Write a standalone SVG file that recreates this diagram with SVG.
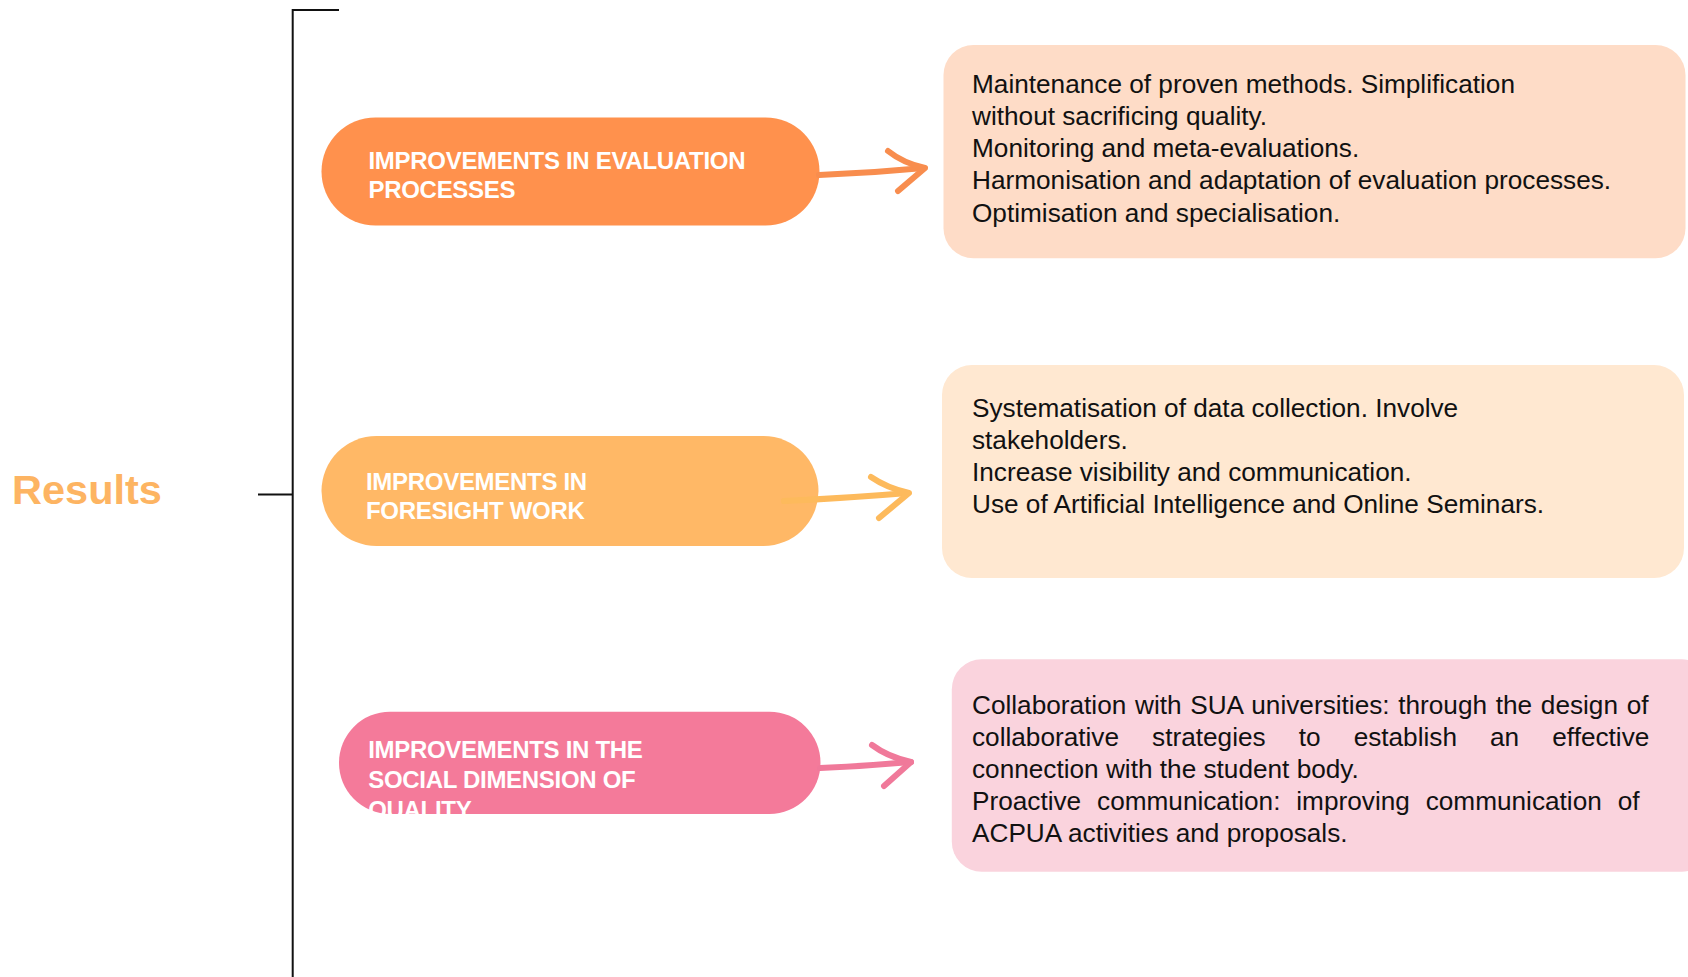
<svg xmlns="http://www.w3.org/2000/svg" width="1688" height="977" viewBox="0 0 1688 977">
<style>
.pilltxt{font-family:"Liberation Sans",Arial,sans-serif;font-weight:bold;font-size:24px;fill:#ffffff;letter-spacing:-0.3px}
.boxtxt{font-family:"Liberation Sans",Arial,sans-serif;font-size:26.2px;fill:#111111}
.bracket{stroke:#111111;stroke-width:2;fill:none}
.shaft{fill:none;stroke-width:6;stroke-linecap:round}
.head{fill:none;stroke-width:6;stroke-linecap:round;stroke-linejoin:round}
</style>
<defs>
<clipPath id="clip3"><rect x="339" y="711" width="482" height="103"/></clipPath>
</defs>
<rect x="0" y="0" width="1688" height="977" fill="#ffffff"/>

<g id="results">
<text x="12" y="503.5" font-family="Liberation Sans, Arial, sans-serif" font-weight="bold" font-size="41.5" fill="#FDB462">Results</text>
</g>

<g id="bracket">
<path class="bracket" d="M339,10 H292.7 V977"/>
<path class="bracket" d="M258,494.6 H292.7"/>
</g>

<g id="pill1">
<rect x="321.5" y="117.5" width="498" height="108" rx="54" fill="#FF914D"/>
<text class="pilltxt" x="368.5" y="169.3">IMPROVEMENTS IN EVALUATION</text>
<text class="pilltxt" x="368.5" y="197.5">PROCESSES</text>
</g>

<g id="pill2">
<rect x="321.5" y="436" width="497" height="110" rx="55" fill="#FFB866"/>
<text class="pilltxt" x="366" y="490">IMPROVEMENTS IN</text>
<text class="pilltxt" x="366" y="519.3">FORESIGHT WORK</text>
</g>

<g id="pill3">
<rect x="339" y="711.7" width="481.5" height="102.3" rx="51" fill="#F47A9A"/>
<g clip-path="url(#clip3)">
<text class="pilltxt" x="368.2" y="757.7">IMPROVEMENTS IN THE</text>
<text class="pilltxt" x="368.2" y="787.7">SOCIAL DIMENSION OF</text>
<text class="pilltxt" x="368.2" y="817.7">QUALITY</text>
</g>
</g>

<g id="box1">
<rect x="943.5" y="45" width="742" height="213.3" rx="30" fill="#FEDCC7"/>
<text class="boxtxt" x="972" y="93.3">Maintenance of proven methods. Simplification</text>
<text class="boxtxt" x="972" y="124.8">without sacrificing quality.</text>
<text class="boxtxt" x="972" y="157">Monitoring and meta-evaluations.</text>
<text class="boxtxt" x="972" y="189.3">Harmonisation and adaptation of evaluation processes.</text>
<text class="boxtxt" x="972" y="221.5">Optimisation and specialisation.</text>
</g>

<g id="box2">
<rect x="942" y="365" width="742" height="213" rx="30" fill="#FFE8D1"/>
<text class="boxtxt" x="972" y="417">Systematisation of data collection. Involve</text>
<text class="boxtxt" x="972" y="449">stakeholders.</text>
<text class="boxtxt" x="972" y="481">Increase visibility and communication.</text>
<text class="boxtxt" x="972" y="513">Use of Artificial Intelligence and Online Seminars.</text>
</g>

<g id="box3">
<rect x="951.8" y="659.3" width="760" height="212.4" rx="30" fill="#FAD3DD"/>
<text class="boxtxt" x="972" y="714" word-spacing="1.4">Collaboration with SUA universities: through the design of</text>
<text class="boxtxt" x="972" y="746" word-spacing="25.8">collaborative strategies to establish an effective</text>
<text class="boxtxt" x="972" y="777.5">connection with the student body.</text>
<text class="boxtxt" x="972" y="809.5" word-spacing="8.6">Proactive communication: improving communication of</text>
<text class="boxtxt" x="972" y="841.5">ACPUA activities and proposals.</text>
</g>

<g id="connectors">
<path class="shaft" stroke="#F88D4E" d="M819,175 Q872,173 924,168"/>
<path class="head" stroke="#F88D4E" d="M888,151 Q903,163 925,168 L898,191"/>
<path class="shaft" stroke="#FDBA5C" d="M784,501 Q848,498 908,493"/>
<path class="head" stroke="#FDBA5C" d="M871,477 Q887,488 909,493 L879,518"/>
<path class="shaft" stroke="#F0799A" d="M820,768 Q866,766 911,762"/>
<path class="head" stroke="#F0799A" d="M872,745 Q888,757 911,762 L884,786"/>
</g>
</svg>
